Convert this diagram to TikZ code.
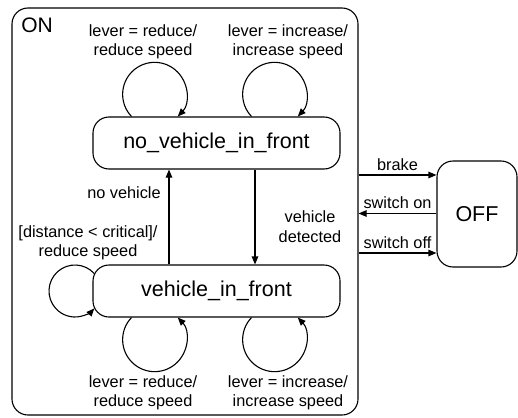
\documentclass[tikz,border=0pt]{standalone}
\usepackage{fontspec}
\setmainfont{Liberation Sans}
\usetikzlibrary{arrows.meta,calc}
\tikzset{
  statebox/.style={draw, line width=1.1pt, rounded corners=16pt, inner sep=0pt, font=\fontsize{21.5}{24}\selectfont},
  lbl/.style={align=center, inner sep=0pt, font=\fontsize{16.3}{19.5}\selectfont},
  arr/.style={line width=1.1pt, -{Triangle[length=8pt,width=6.5pt]}},
}
\begin{document}
\begin{tikzpicture}[x=1pt,y=-1pt]
\useasboundingbox (0,0) rectangle (518,417);
% ON superstate
\node[statebox, minimum width=346pt, minimum height=407pt] (on) at (185,211.5) {};
\node[inner sep=0pt, font=\fontsize{21}{24}\selectfont] (ontxt) at (37,25) {ON};
% OFF
\node[statebox, minimum width=80pt, minimum height=106pt] (off) at (477,214) {OFF};
% substates
\node[statebox, minimum width=247pt, minimum height=52pt] (nv) at (216.5,143) {no\_vehicle\_in\_front};
\node[statebox, minimum width=247pt, minimum height=52pt] (v) at (216.5,291) {vehicle\_in\_front};
% vertical transitions
\draw[arr] ([xshift=-47.5pt]v.north) -- ([xshift=-47.5pt]nv.south);
\draw[arr] ([xshift=38.5pt]nv.south) -- ([xshift=38.5pt]v.north);
\node[lbl] (lnv) at (124,193) {no vehicle};
\node[lbl] (lvd) at (310,226.5) {vehicle\\detected};
% self loops on nv
\draw[arr] ([xshift=-85pt]nv.north) arc[start angle=136.3, end angle=403.7, radius=32];
\draw[arr] ([xshift=35pt]nv.north) arc[start angle=136.3, end angle=403.7, radius=32];
\node[lbl] (l1) at (143,42) {lever = reduce/\\reduce speed};
\node[lbl] (l2) at (288,42) {lever = increase/\\increase speed};
% self loops on v
\draw[arr] ([xshift=-85pt]v.south) arc[start angle=-136.3, end angle=-403.7, radius=32];
\draw[arr] ([xshift=35pt]v.south) arc[start angle=-136.3, end angle=-403.7, radius=32];
\node[lbl] (l3) at (143,393) {lever = reduce/\\reduce speed};
\node[lbl] (l4) at (288,393) {lever = increase/\\increase speed};
% left loop on v
\coordinate (lstart) at ($(75,291)+(-42:26)$);
\draw[arr] (lstart) arc[start angle=-42, end angle=-318, radius=26];
\node[lbl] (l5) at (88,243) {[distance < critical]/\\reduce speed};
% ON <-> OFF
\coordinate (yb) at (0,175);
\coordinate (ys) at (0,213.5);
\coordinate (yo) at (0,253);
\draw[arr] (on.east |- yb) -- node[lbl, above=4pt] (lb) {brake} (off.west |- yb);
\draw[arr] (off.west |- ys) -- node[lbl, above=4pt] (ls) {switch on} (on.east |- ys);
\draw[arr] (on.east |- yo) -- node[lbl, above=4pt] (lo) {switch off} (off.west |- yo);
\end{tikzpicture}
\end{document}
